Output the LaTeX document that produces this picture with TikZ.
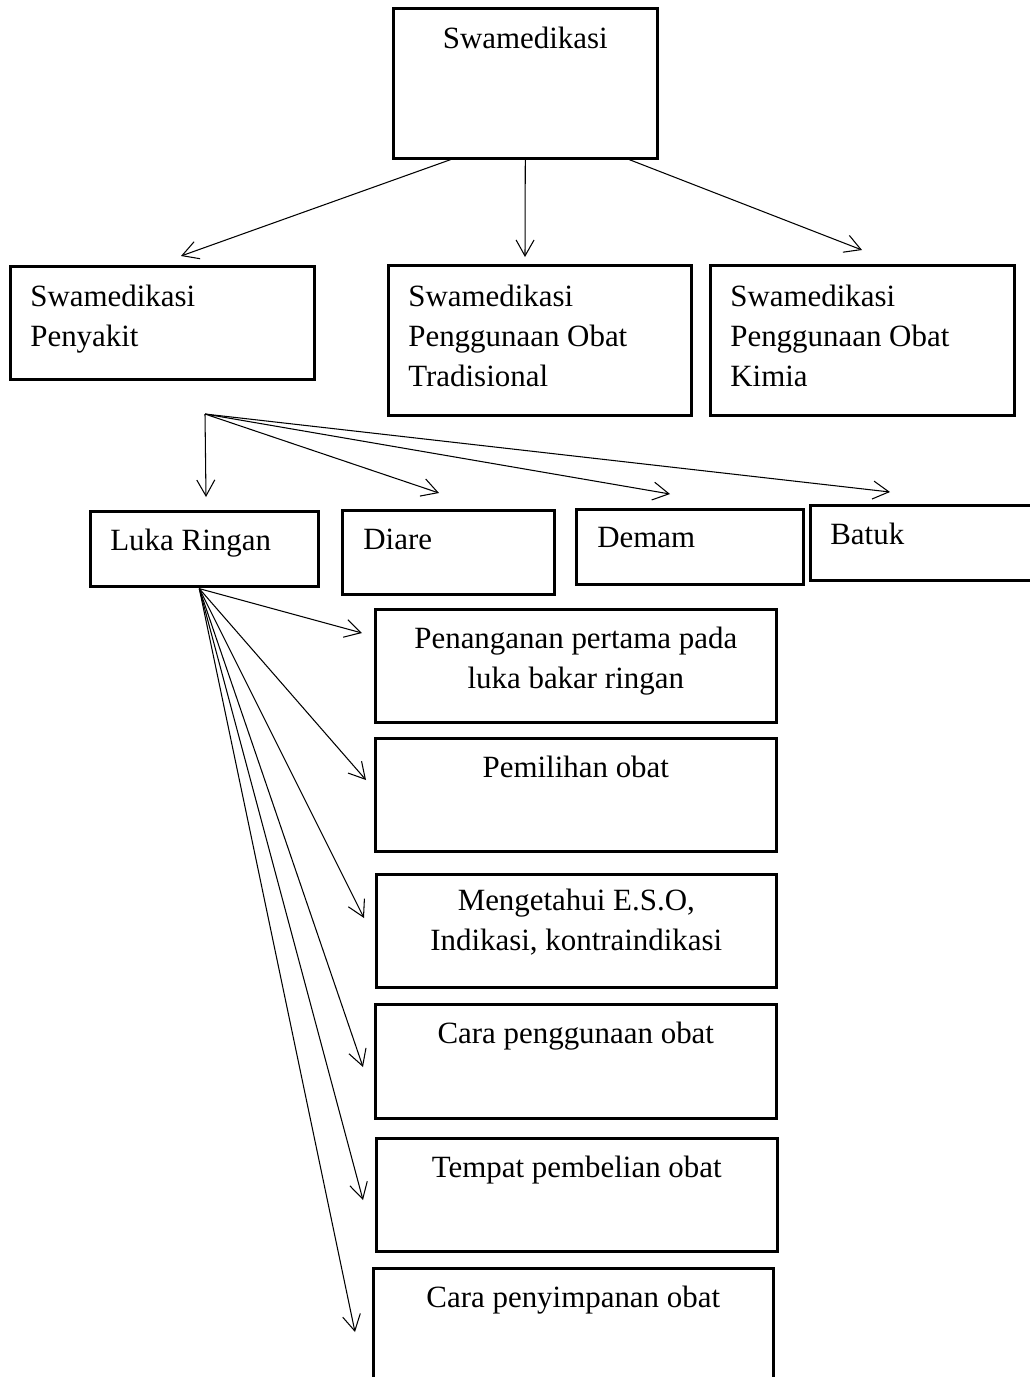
\documentclass[tikz,border=0pt]{standalone}
\usepackage{fontspec}
\setmainfont{Liberation Serif}
\usetikzlibrary{positioning,arrows.meta,calc}

\tikzset{
  kotak/.style={draw, line width=1.5pt, inner sep=0pt, anchor=north west},
  teks/.style={inner sep=0pt, font=\fontsize{17.6}{22.8}\selectfont},
  kiri/.style={teks, anchor=north west, align=left},
  tengah/.style={teks, anchor=north, align=center},
  panah/.style={-{Straight Barb[length=3.2mm,width=3.6mm]}, line width=0.6pt}
}

\begin{document}
\begin{tikzpicture}[x=0.02cm,y=-0.02cm]
    \clip (0,0) rectangle (1030,1377);
    % kotak-kotak
    \node[kotak, minimum width=5.28cm, minimum height=3cm] (swa) at (392,7) {};
    \node[kotak, minimum width=6.08cm, minimum height=2.26cm] (penyakit) at (9,265) {};
    \node[kotak, minimum width=6.06cm, minimum height=3cm] (tradisional) at (387,264) {};
    \node[kotak, minimum width=6.08cm, minimum height=3cm] (kimia) at (709,264) {};
    \node[kotak, minimum width=4.56cm, minimum height=1.5cm] (luka) at (89,510) {};
    \node[kotak, minimum width=4.24cm, minimum height=1.68cm] (diare) at (341,509) {};
    \node[kotak, minimum width=4.54cm, minimum height=1.5cm] (demam) at (575,508) {};
    \node[kotak, minimum width=4.8cm, minimum height=1.5cm] (batuk) at (809,504) {};
    \node[kotak, minimum width=8.02cm, minimum height=2.26cm] (tangan) at (374,608) {};
    \node[kotak, minimum width=8.02cm, minimum height=2.26cm] (pilih) at (374,737) {};
    \node[kotak, minimum width=8cm, minimum height=2.26cm] (eso) at (375,873) {};
    \node[kotak, minimum width=8.02cm, minimum height=2.28cm] (guna) at (374,1003) {};
    \node[kotak, minimum width=8.02cm, minimum height=2.26cm] (beli) at (375,1137) {};
    \node[kotak, minimum width=8cm, minimum height=2.7cm] (simpan) at (372,1267) {};

    % teks
    \node[tengah] (t-swa) at ($(swa.north)+(0,20)$) {Swamedikasi};
    \node[kiri] (t-penyakit) at ($(penyakit.north west)+(21,20)$) {Swamedikasi\\Penyakit};
    \node[kiri] (t-tradisional) at ($(tradisional.north west)+(21,21)$) {Swamedikasi\\Penggunaan Obat\\Tradisional};
    \node[kiri] (t-kimia) at ($(kimia.north west)+(21,21)$) {Swamedikasi\\Penggunaan Obat\\Kimia};
    \node[kiri] (t-luka) at ($(luka.north west)+(21,19)$) {Luka Ringan};
    \node[kiri] (t-diare) at ($(diare.north west)+(22,20)$) {Diare};
    \node[kiri] (t-demam) at ($(demam.north west)+(22,19)$) {Demam};
    \node[kiri] (t-batuk) at ($(batuk.north west)+(21,19)$) {Batuk};
    \node[tengah] (t-tangan) at ($(tangan.north)+(0,19)$) {Penanganan pertama pada\\luka bakar ringan};
    \node[tengah] (t-pilih) at ($(pilih.north)+(0,19)$) {Pemilihan obat};
    \node[tengah] (t-eso) at ($(eso.north)+(0,16)$) {Mengetahui E.S.O,\\Indikasi, kontraindikasi};
    \node[tengah] (t-guna) at ($(guna.north)+(0,19)$) {Cara penggunaan obat};
    \node[tengah] (t-beli) at ($(beli.north)+(0,19)$) {Tempat pembelian obat};
    \node[tengah] (t-simpan) at ($(simpan.north)+(0,19)$) {Cara penyimpanan obat};

    % panah dari swamedikasi
    \coordinate (cabang) at (205,414);
    \coordinate (akar) at ($(luka.south)+(-5,1)$);
    \draw[panah] ($(swa.south west)!0.22!(swa.south east)$) -- ($(penyakit.north west)+(172,-9)$);
    \draw[panah] (swa.south) -- ($(tradisional.north west)+(138,-7)$);
    \draw[panah] ($(swa.south west)!0.89!(swa.south east)$) -- ($(kimia.north west)+(153,-14)$);

    % panah ke jenis penyakit
    \foreach \k/\dx/\dy in {luka/117/-13, diare/98/-16, demam/95/-14, batuk/81/-12}
        \draw[panah] (cabang) -- ($(\k.north west)+(\dx,\dy)$);

    % panah dari luka ringan
    \foreach \k/\dx/\dy in {tangan/-12/25, pilih/-8/43, eso/-11/45, guna/-11/64, beli/-12/63, simpan/-17/65}
        \draw[panah] (akar) -- ($(\k.north west)+(\dx,\dy)$);
\end{tikzpicture}
\end{document}
